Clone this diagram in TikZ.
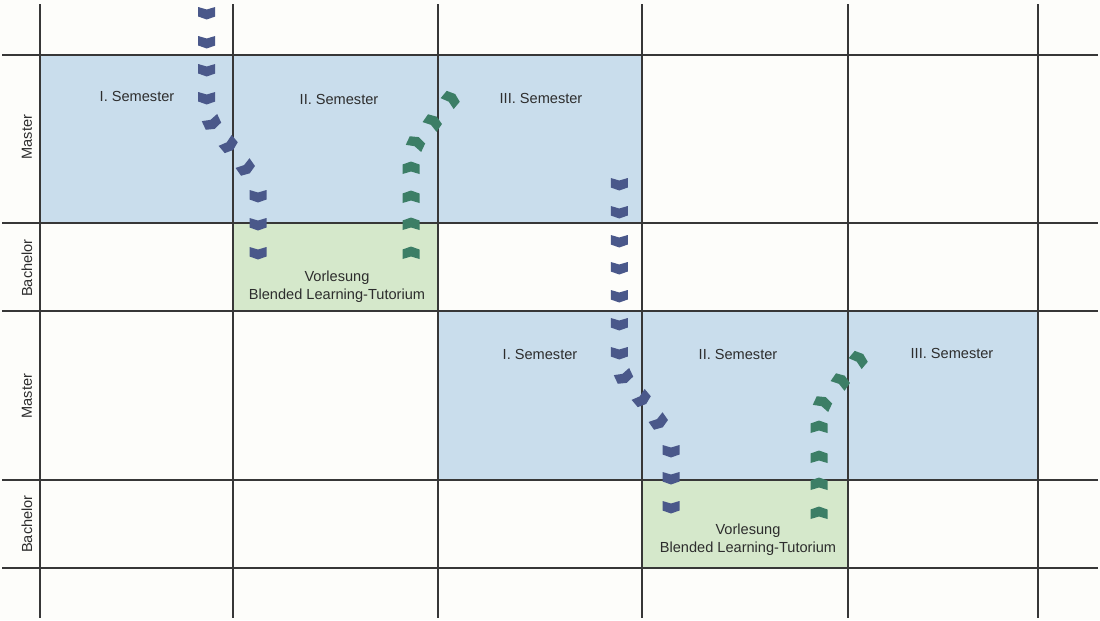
\documentclass[tikz,border=0pt]{standalone}
\usepackage{fontspec}
\setmainfont{Liberation Sans}
\usetikzlibrary{positioning}

\definecolor{masterblue}{RGB}{201,221,236}
\definecolor{bachelorgreen}{RGB}{213,232,203}
\definecolor{chevblue}{RGB}{74,88,138}
\definecolor{chevgreen}{RGB}{60,126,102}
\definecolor{gridgray}{RGB}{55,55,55}
\definecolor{textgray}{RGB}{45,45,45}
\definecolor{paper}{RGB}{253,253,250}

\tikzset{
  chevdown/.pic={\fill[chevblue, rotate=#1] (-8.5,-6) -- (0,-3.5) -- (8.5,-6) -- (8.5,3.5) -- (0,6.5) -- (-8.5,3.5) -- cycle;},
  chevdown/.default=0,
  chevup/.pic={\fill[chevgreen, rotate=#1] (-8.5,6) -- (0,3.5) -- (8.5,6) -- (8.5,-3.5) -- (0,-6.5) -- (-8.5,-3.5) -- cycle;},
  chevup/.default=0
}

\begin{document}
\begin{tikzpicture}[x=0.02cm, y=-0.02cm,
  semlabel/.style={font=\fontsize{8.3}{10}\selectfont, text=textgray, inner sep=0pt, align=center},
  levellabel/.style={semlabel, rotate=90},
  gridline/.style={draw=gridgray, line width=0.8pt}]
	\fill[paper] (0,0) rectangle (1100,620);
	\useasboundingbox (0,0) rectangle (1100,620);
	
	% semester blocks
	\fill[masterblue] (40,55) rectangle (642,223);
	\fill[bachelorgreen] (233,223) rectangle (438,311);
	\fill[masterblue] (438,311) rectangle (1038,480);
	\fill[bachelorgreen] (642,480) rectangle (848,568);
	
	% grid
	\foreach \gx in {40,233,438,642,848,1038}
		\draw[gridline] (\gx,4) -- (\gx,618);
	\foreach \gy in {55,223,311,480,568}
		\draw[gridline] (2,\gy) -- (1098,\gy);
	
	% first run
	\foreach \cx/\cy/\ca in {206.7/13/0, 206.7/42/0, 206.7/70/0, 206.7/98/0, 212/123/25, 229/145/40, 246/168/35, 258/196/0, 258/224/0, 258/253/0}
		\pic at (\cx,\cy) {chevdown=\ca};
	\foreach \cx/\cy/\ca in {411/253/0, 411/224/0, 411/197/0, 411/168/0, 416/143/-25, 433/122/-35, 451/99/-40}
		\pic at (\cx,\cy) {chevup=\ca};
	
	% second run
	\foreach \cx/\cy/\ca in {619.3/184/0, 619.3/212/0, 619.3/241/0, 619.3/268/0, 619.3/296/0, 619.3/324/0, 619.3/353/0, 624/377/25, 642/399/40, 659/422/35, 671/451/0, 671/478/0, 671/507/0}
		\pic at (\cx,\cy) {chevdown=\ca};
	\foreach \cx/\cy/\ca in {819/513/0, 819/484/0, 819/457/0, 819/427/0, 823/403/-25, 841/381/-35, 859/359/-40}
		\pic at (\cx,\cy) {chevup=\ca};
	
	% labels
	\node[levellabel] (master1) at (27,137) {Master};
	\node[levellabel] (bachelor1) at (27,268) {Bachelor};
	\node[levellabel] (master2) at (27,396) {Master};
	\node[levellabel] (bachelor2) at (27,524) {Bachelor};
	
	\node[semlabel] (sem1a) at (137,96) {I. Semester};
	\node[semlabel] (sem2a) at (339,99) {II. Semester};
	\node[semlabel] (sem3a) at (541,98) {III. Semester};
	\node[semlabel] (sem1b) at (540,354) {I. Semester};
	\node[semlabel] (sem2b) at (738,354) {II. Semester};
	\node[semlabel] (sem3b) at (952,353) {III. Semester};
	
	\node[semlabel] (lecturea) at (337,287) {Vorlesung\\Blended Learning-Tutorium};
	\node[semlabel] (lectureb) at (748,540) {Vorlesung\\Blended Learning-Tutorium};
\end{tikzpicture}
\end{document}
